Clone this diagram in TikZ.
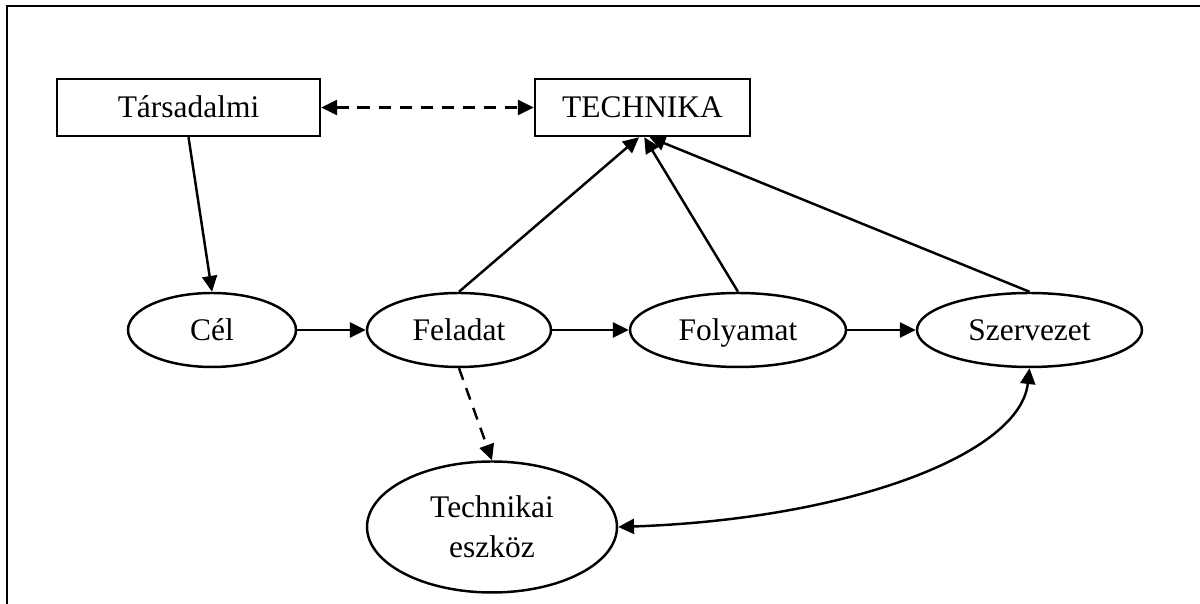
\documentclass[tikz,border=0pt]{standalone}
\usepackage{fontspec}
\setmainfont{Liberation Serif}
\usetikzlibrary{arrows.meta}
\usetikzlibrary{shapes,positioning}
\tikzset{>={Triangle[length=9pt,width=8.5pt]}}
\tikzset{doboz/.style={draw, line width=1.4pt, inner sep=0pt, minimum height=1.14cm, egysor},
	tojas/.style={draw, ellipse, line width=1.4pt, inner sep=0pt, minimum height=1.48cm},
	egysor/.style={text height=16pt, text depth=4.2pt},
	nyil/.style={->, line width=1.4pt},
	szaggatott/.style={line width=1.4pt, dash pattern=on 7pt off 5pt}}

\begin{document}
\begin{tikzpicture}[x=0.02cm, y=0.02cm, font=\fontsize{17.9pt}{22.5pt}\selectfont]
				\useasboundingbox (0,0) rectangle (1200,604);
				\draw[line width=1.6pt] (7,0) -- (7,598) -- (1200,598);
				
				\node[doboz, minimum width=5.26cm] (tars) at (188.5,496.5) {Társadalmi};
				\node[doboz, minimum width=4.3cm] (tech) at (642.5,496.5) {TECHNIKA};
				
				\node[tojas, egysor, minimum width=3.36cm] (cel) at (212,274) {Cél};
				\node[tojas, egysor, minimum width=3.68cm] (fel) at (459,274) {Feladat};
				\node[tojas, egysor, minimum width=4.32cm] (foly) at (738,274) {Folyamat};
				\node[tojas, egysor, minimum width=4.5cm] (szer) at (1029.5,274) {Szervezet};
				\node[tojas, minimum width=5cm, minimum height=2.62cm, align=center] (eszk) at (492,77) {Technikai\\eszköz};
				
				\draw[szaggatott, <->] (tars.east) -- (tech.west);
				\draw[nyil] (tars.south) -- (cel.north);
				\draw[nyil] (cel.east) -- (fel.west);
				\draw[nyil] (fel.east) -- (foly.west);
				\draw[nyil] (foly.east) -- (szer.west);
				\draw[nyil] (fel.north) -- ([xshift=-2pt]tech.south);
				\draw[nyil] (foly.north) -- ([xshift=1pt]tech.south);
				\draw[nyil] (szer.north) -- ([xshift=4pt]tech.south);
				\draw[szaggatott, ->] (fel.south) -- (eszk.north);
				\draw[nyil, <->] (szer.south) .. controls (1020,150) and (850,85) .. (eszk.east);
\end{tikzpicture}
\end{document}
